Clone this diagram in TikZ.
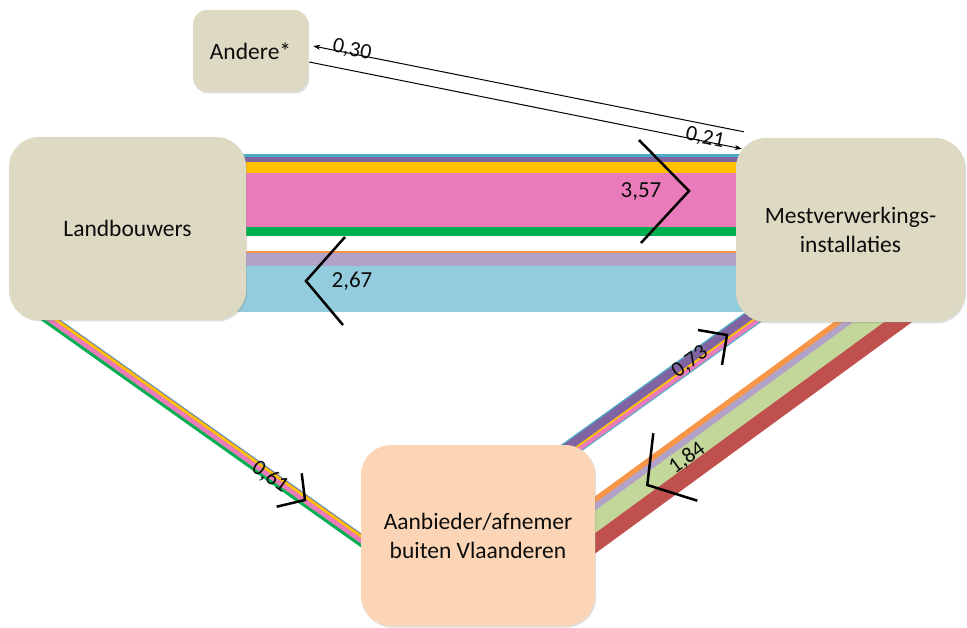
\documentclass[tikz,border=0pt]{standalone}
\usepackage{fontspec}
\setmainfont{Carlito}
\usetikzlibrary{calc,arrows.meta,shadows}
\definecolor{cyanS}{HTML}{4BACC6}
\definecolor{purpleS}{HTML}{8064A2}
\definecolor{yellowS}{HTML}{FFC000}
\definecolor{pinkS}{HTML}{E97BBA}
\definecolor{greenS}{HTML}{00B050}
\definecolor{orangeS}{HTML}{F79646}
\definecolor{lavS}{HTML}{B3A2C7}
\definecolor{lblueS}{HTML}{93CDDD}
\definecolor{lgreenS}{HTML}{C4D79B}
\definecolor{redS}{HTML}{C0504D}
\definecolor{boxTan}{HTML}{DDD9C3}
\definecolor{boxPeach}{HTML}{FBD5B5}
\definecolor{txt}{HTML}{0D0D0D}
\newcommand\bandstripe[5]{\draw[line width=#4pt,#5] ($(#1)!#3pt!90:(#2)$) -- ($(#2)!#3pt!-90:(#1)$);}
\tikzset{
  flowbox/.style={draw=none, inner sep=0pt, align=center, text=txt,
    font=\fontsize{23.5}{29}\selectfont,
    drop shadow={shadow xshift=1.2pt, shadow yshift=-1.5pt, opacity=0.25}},
  chev/.style={line width=2.5pt, black, line join=miter},
  flowlbl/.style={text=txt, inner sep=0pt, font=\fontsize{23}{27}\selectfont},
  smalllbl/.style={text=txt, inner sep=0pt, font=\fontsize{22}{26}\selectfont},
  thinarrow/.style={line width=1pt, black, -{Stealth[length=7pt,width=5pt]}}
}
\begin{document}
\begin{tikzpicture}[x=1pt,y=-1pt]
\useasboundingbox[fill=white] (0,0) rectangle (967,628);

% horizontal band Landbouwers -> Mestverwerking (3,57)
\fill[cyanS]   (200,154)   rectangle (800,156.7);
\fill[purpleS] (200,156.7) rectangle (800,161.7);
\fill[yellowS] (200,161.7) rectangle (800,172.7);
\fill[pinkS]   (200,172.7) rectangle (800,226.7);
\fill[greenS]  (200,226.7) rectangle (800,235.7);
% horizontal band Mestverwerking -> Landbouwers (2,67)
\fill[orangeS] (200,251)   rectangle (800,253.3);
\fill[lavS]    (200,253.3) rectangle (800,265.7);
\fill[lblueS]  (200,265.7) rectangle (800,311.7);

% diagonal band Landbouwers -> Aanbieder (0,61)
\coordinate (lA) at (40,312.5);
\coordinate (lB) at (400,568);
\bandstripe{lA}{lB}{5.4}{0.9}{cyanS}
\bandstripe{lA}{lB}{4.8}{0.9}{purpleS}
\bandstripe{lA}{lB}{3.1}{3.1}{yellowS}
\bandstripe{lA}{lB}{-0.6}{4.9}{pinkS}
\bandstripe{lA}{lB}{-4.3}{2.9}{greenS}

% diagonal band Aanbieder -> Mestverwerking (0,73)
\coordinate (uA) at (540,470.6);
\coordinate (uB) at (790,290.6);
\bandstripe{uA}{uB}{7.85}{1.6}{cyanS}
\bandstripe{uA}{uB}{2.8}{9.0}{purpleS}
\bandstripe{uA}{uB}{-2.5}{2.2}{yellowS}
\bandstripe{uA}{uB}{-5.6}{4.5}{pinkS}
\bandstripe{uA}{uB}{-8.15}{1.0}{cyanS}

% diagonal band Mestverwerking -> Aanbieder (1,84)
\coordinate (rA) at (570,543.3);
\coordinate (rB) at (930,280.4);
\bandstripe{rA}{rB}{20.25}{5.7}{orangeS}
\bandstripe{rA}{rB}{14.45}{6.5}{lavS}
\bandstripe{rA}{rB}{2.3}{18.4}{lgreenS}
\bandstripe{rA}{rB}{-14.85}{16.4}{redS}

% boxes
\node[flowbox, fill=boxTan, rounded corners=14pt, minimum width=115pt, minimum height=82pt] (andere) at (250.5,51) {Andere*};
\node[flowbox, fill=boxTan, rounded corners=30pt, minimum width=237pt, minimum height=183pt] (land) at (127.5,228.5) {Landbouwers};
\node[flowbox, fill=boxTan, rounded corners=30pt, minimum width=229pt, minimum height=184pt] (mest) at (850.5,230) {Mestverwerkings-\\installaties};
\node[flowbox, fill=boxPeach, rounded corners=30pt, minimum width=234pt, minimum height=181pt] (aanb) at (478,535.5) {Aanbieder/afnemer\\buiten Vlaanderen};

% arrows to/from Andere*
\coordinate (m1) at ($(mest.north west)+(8,-6)$);
\coordinate (a1) at ($(andere.east)+(5,-5)$);
\coordinate (a2) at ($(andere.east)+(1,11)$);
\coordinate (m2) at ($(mest.north west)+(6,11)$);
\draw[thinarrow] (m1) -- (a1);
\draw[thinarrow] (a2) -- (m2);
\node[smalllbl, rotate=-11.3] (l030) at (352,50) {0,30};
\node[smalllbl, rotate=-11.3] (l021) at (705,138) {0,21};

% chevrons
\draw[chev] (639,140) -- (689,191) -- (641,243);
\draw[chev] (345,237) -- (306,281) -- (343,325);
\draw[chev] (301.7,473.3) -- (305,500) -- (276.7,506.7);
\draw[chev] (698,330) -- (727,335) -- (722,365);
\draw[chev] (653.3,433.3) -- (647.3,485) -- (697.3,500.7);

% flow labels
\node[flowlbl] (l357) at (641,192) {3,57};
\node[flowlbl] (l267) at (352,281) {2,67};
\node[smalllbl, rotate=-35.5] (l061) at (270,477) {0,61};
\node[smalllbl, rotate=35.8] (l073) at (690,362) {0,73};
\node[smalllbl, rotate=36] (l184) at (687,458) {1,84};
\end{tikzpicture}
\end{document}
